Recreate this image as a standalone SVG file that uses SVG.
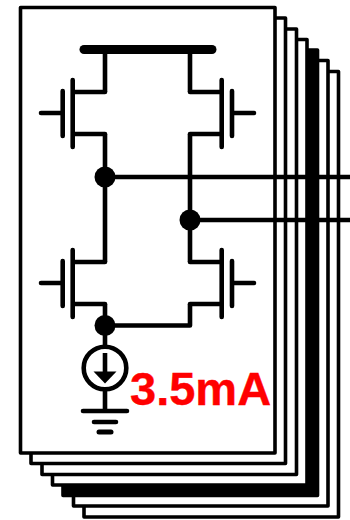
<svg xmlns="http://www.w3.org/2000/svg" width="350" height="520" viewBox="0 0 350 520">
<style>
.sheet{fill:#fff;stroke:#000;stroke-width:3.600;stroke-linejoin:round}
.dark{fill:#000}
.w{fill:none;stroke:#000;stroke-width:4.600;stroke-linecap:round;stroke-linejoin:round}
.dot{fill:#000}
.label{font-family:"Liberation Sans",Arial,sans-serif;font-weight:bold;font-size:47px;fill:#f00;stroke:#f00;stroke-width:.4px}
</style>
<defs>
<g id="nmos-l"><path class="w" d="M105 92H72.700M72.700 80V147M62.700 91V136M62.700 113H41M72.700 134H105"/></g>
<g id="nmos-r"><path class="w" d="M190 92H221.700M221.700 80V147M232 91V136M232 113H254M221.700 134H190"/></g>
</defs>
<g id="sheets">
<rect class="sheet" x="84" y="71.500" width="254.500" height="445.500"/>
<rect class="sheet" x="73.500" y="60.500" width="254.500" height="445.500"/>
<rect class="sheet dark" x="63" y="50" width="254.500" height="445.500"/>
<rect class="sheet" x="52.500" y="39.500" width="254.500" height="445.500"/>
<rect class="sheet" x="42" y="29" width="254.500" height="445.500"/>
<rect class="sheet" x="31" y="18" width="254.500" height="445.500"/>
<rect class="sheet" x="20.500" y="7.500" width="254.500" height="445.500"/>
</g>
<g id="connectors">
<path class="w" d="M105 49.500V92M190 49.500V92M105 134V262M190 134V262M105 304V347M190 304V325.500H105M105 389V411M105 177H350M190 220H350" style="stroke-linecap:butt"/>
</g>
<g id="vdd-rail"><path d="M84 49.500H212" fill="none" stroke="#000" stroke-width="9" stroke-linecap="round"/></g>
<g id="m1"><use href="#nmos-l"/></g>
<g id="m2"><use href="#nmos-r"/></g>
<g id="m3"><use href="#nmos-l" y="170"/></g>
<g id="m4"><use href="#nmos-r" y="170"/></g>
<g id="node-a"><circle class="dot" cx="105" cy="177" r="10.500"/></g>
<g id="node-b"><circle class="dot" cx="190" cy="220" r="10.500"/></g>
<g id="node-tail"><circle class="dot" cx="105" cy="325.500" r="10.500"/></g>
<g id="current-source">
<circle cx="105" cy="368" r="21.300" fill="#fff" stroke="#000" stroke-width="4.600"/>
<path class="w" d="M105 353V374" style="stroke-linecap:butt"/>
<path d="M93.500 371.500H116.500L105 383.500Z" fill="#000"/>
</g>
<g id="ground"><path class="w" d="M83 411H127M94 422H116"/><path d="M99 432H111" fill="none" stroke="#000" stroke-width="5" stroke-linecap="round"/></g>
<text class="label" x="130" y="404.500">3.5mA</text>
</svg>
